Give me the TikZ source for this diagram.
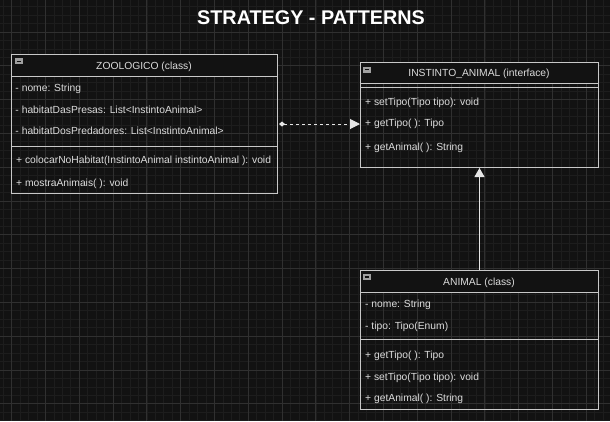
\documentclass[tikz,border=0pt]{standalone}
\usepackage{fontspec}
\setmainfont{Liberation Sans}
\usetikzlibrary{arrows.meta}
\definecolor{bg}{HTML}{121212}
\definecolor{gridminor}{HTML}{1D1D1D}
\definecolor{gridmajor}{HTML}{303030}
\definecolor{edge}{HTML}{C8C8C8}
\definecolor{txt}{HTML}{DCDCDC}
\definecolor{iconc}{HTML}{A0A0A0}
\definecolor{conn}{HTML}{E6E6E6}
\begin{document}
\begin{tikzpicture}[x=1pt,y=-1pt,
  classbox/.style={draw=edge, line width=1pt, rectangle, inner sep=0pt, anchor=north west},
  member/.style={anchor=west, inner sep=0pt, text=txt, font=\fontsize{10.3}{12}\selectfont, text height=7pt, text depth=0pt},
  headtext/.style={inner sep=0pt, text=txt, font=\fontsize{10.3}{12}\selectfont, text height=7pt, text depth=0pt},
  sepline/.style={draw=edge, line width=1pt},
  headfill/.style={fill=bg},
  classicon/.pic={
    \fill[iconc] (0,0) rectangle (7.4,6);
    \draw[bg, line width=1.2pt] (1.4,3) -- (6,3);
  }
]
\useasboundingbox (0,0) rectangle (610,421);
\fill[bg] (0,0) rectangle (610,421);
\clip (0,0) rectangle (610,421);
% grid
\foreach \i in {-2,...,72} \draw[gridminor, line width=0.8pt] ({11.7+8.45*\i},0) -- ({11.7+8.45*\i},421);
\foreach \i in {0,...,51} \draw[gridminor, line width=0.8pt] (0,{-1.8+8.45*\i}) -- (610,{-1.8+8.45*\i});
\foreach \i in {-1,...,18} \draw[gridmajor, line width=0.9pt] ({11.7+33.8*\i},0) -- ({11.7+33.8*\i},421);
\foreach \i in {0,...,13} \draw[gridmajor, line width=0.9pt] (0,{-1.8+33.8*\i}) -- (610,{-1.8+33.8*\i});

% title
\node[inner sep=0pt, text=white, font=\bfseries\fontsize{19.8}{22}\selectfont] (title) at (311,17.5) {STRATEGY - PATTERNS};

% header fills
\fill[headfill] (11,54) rectangle (277,76);
\fill[headfill] (360,62) rectangle (598,83);
\fill[headfill] (360,270) rectangle (598,292);

% ZOOLOGICO
\node[classbox, minimum width=266pt, minimum height=139pt] (zoo) at (11,54) {};
\draw[sepline] (11,76) -- (277,76);
\draw[sepline] (11,146) -- (277,146);
\pic at (15.3,58.3) {classicon};
\node[headtext] (zooh) at (144,65.5) {ZOOLOGICO (class)};
\node[member] (z1) at (15.3,88) {- nome: String};
\node[member] (z2) at (15.3,110) {- habitatDasPresas: List<InstintoAnimal>};
\node[member] (z3) at (15.3,131) {- habitatDosPredadores: List<InstintoAnimal>};
\node[member] (z4) at (16,160) {+ colocarNoHabitat(InstintoAnimal instintoAnimal ): void};
\node[member] (z5) at (16,183) {+ mostraAnimais( ): void};

% INSTINTO_ANIMAL
\node[classbox, minimum width=238pt, minimum height=105pt] (iface) at (360,62) {};
\draw[sepline] (360,83) -- (598,83);
\draw[sepline] (360,87) -- (598,87);
\pic at (363.3,66.5) {classicon};
\node[headtext] (ifaceh) at (479,73) {INSTINTO\_ANIMAL (interface)};
\node[member] (i1) at (365,102) {+ setTipo(Tipo tipo): void};
\node[member] (i2) at (365,123) {+ getTipo( ): Tipo};
\node[member] (i3) at (365,147) {+ getAnimal( ): String};

% ANIMAL
\node[classbox, minimum width=238pt, minimum height=139pt] (animal) at (360,270) {};
\draw[sepline] (360,292) -- (598,292);
\draw[sepline] (360,339) -- (598,339);
\pic at (363.3,274) {classicon};
\node[headtext] (animalh) at (479,281.5) {ANIMAL (class)};
\node[member] (a1) at (365,304) {- nome: String};
\node[member] (a2) at (365,326) {- tipo: Tipo(Enum)};
\node[member] (a3) at (365,355) {+ getTipo( ): Tipo};
\node[member] (a4) at (365,377) {+ setTipo(Tipo tipo): void};
\node[member] (a5) at (365,398) {+ getAnimal( ): String};

% connectors
\draw[conn, line width=1pt, dash pattern=on 3pt off 3pt, shorten <=1pt,
  {Diamond[length=6pt,width=5pt,fill=conn]}-{Triangle[length=10pt,width=10pt,fill=conn]}]
  (zoo.east) -- (zoo.east -| iface.west);
\draw[conn, line width=1pt, -{Triangle[length=9pt,width=10pt,fill=conn]}]
  (animal.north) -- (iface.south);
\end{tikzpicture}
\end{document}
